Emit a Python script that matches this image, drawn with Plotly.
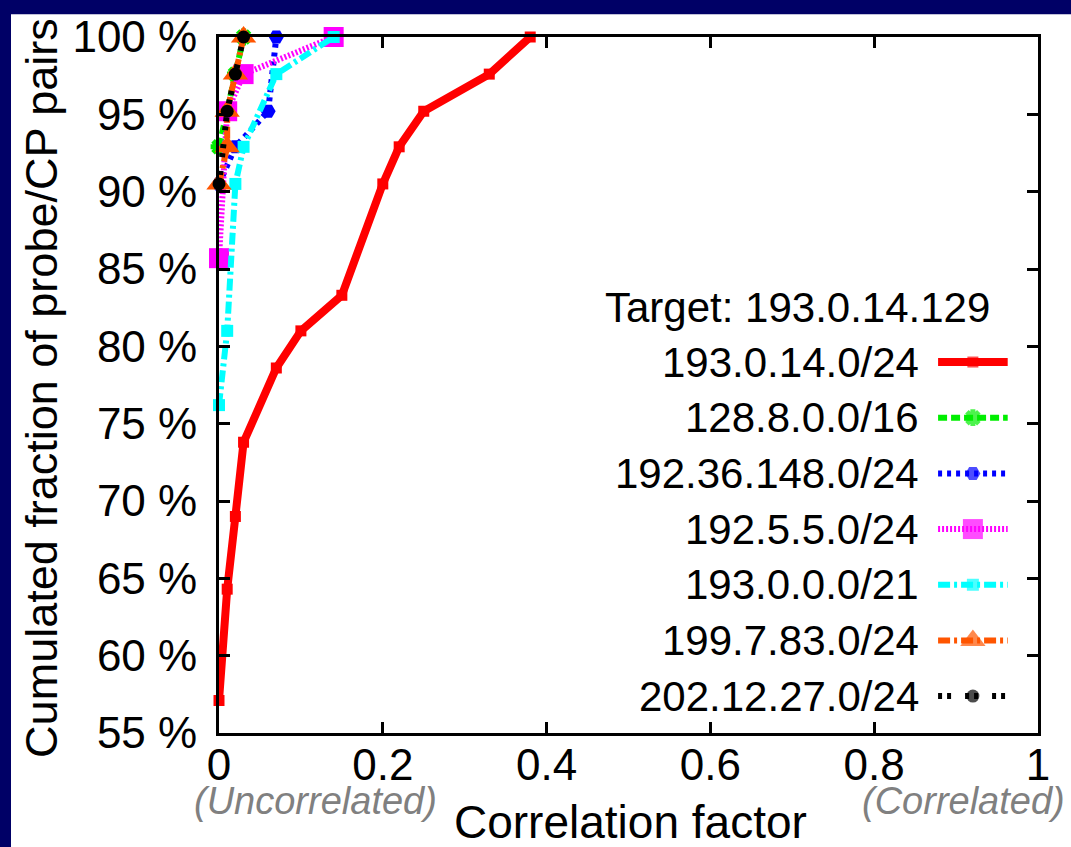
import plotly.graph_objects as go

# Cumulated fraction (%) of probe/CP pairs vs. correlation factor, per prefix
names = ["193.0.14.0/24", "128.8.0.0/16", "192.36.148.0/24", "192.5.5.0/24",
         "193.0.0.0/21", "199.7.83.0/24", "202.12.27.0/24"]

x_193_0_14 = [0.0, 0.01, 0.02, 0.03, 0.07, 0.10, 0.15, 0.20, 0.22, 0.25, 0.33, 0.38]
y_193_0_14 = [57.1, 64.3, 69.0, 73.8, 78.6, 81.0, 83.3, 90.5, 92.9, 95.2, 97.6, 100.0]

x_128_8 = [0.0, 0.01, 0.02, 0.03]
y_128_8 = [92.9, 95.2, 97.6, 100.0]

x_192_36_148 = [0.0, 0.02, 0.06, 0.07]
y_192_36_148 = [90.5, 92.9, 95.2, 100.0]

x_192_5_5 = [0.0, 0.01, 0.03, 0.14]
y_192_5_5 = [85.7, 95.2, 97.6, 100.0]

x_193_0_0 = [0.0, 0.01, 0.02, 0.03, 0.07, 0.14]
y_193_0_0 = [76.2, 81.0, 90.5, 92.9, 97.6, 100.0]

x_199_7_83 = [0.0, 0.01, 0.01, 0.02, 0.03]
y_199_7_83 = [90.5, 92.9, 95.2, 97.6, 100.0]

x_202_12_27 = [0.0, 0.01, 0.02, 0.03]
y_202_12_27 = [90.5, 95.2, 97.6, 100.0]

x_ticks = [0, 0.2, 0.4, 0.6, 0.8, 1]
x_tick_text = ["0", "0.2", "0.4", "0.6", "0.8", "1"]
y_ticks = [55, 60, 65, 70, 75, 80, 85, 90, 95, 100]
y_tick_text = ["55 %", "60 %", "65 %", "70 %", "75 %", "80 %", "85 %", "90 %", "95 %", "100 %"]

series_x = [x_193_0_14, x_128_8, x_192_36_148, x_192_5_5, x_193_0_0, x_199_7_83, x_202_12_27]
series_y = [y_193_0_14, y_128_8, y_192_36_148, y_192_5_5, y_193_0_0, y_199_7_83, y_202_12_27]

FONT = "Liberation Sans, Arial, Helvetica, sans-serif"

# gnuplot-like line/point styles
styles = [
    dict(color="#ff0000", width=8, dash="solid", symbol="square", size=11),
    dict(color="#00ee00", width=6, dash="9px,4px", symbol="asterisk-open", size=14),
    dict(color="#0000ff", width=6, dash="4px,5px", symbol="hexagon2", size=15),
    dict(color="#ff00ff", width=6, dash="2px,2px", symbol="square", size=20),
    dict(color="#00ffff", width=6, dash="12px,4px,3px,4px", symbol="square", size=12),
    dict(color="#ff5500", width=6, dash="12px,4px,3px,4px", symbol="triangle-up", size=22),
    dict(color="#000000", width=6, dash="4px,5px,4px,14px", symbol="circle", size=13),
]


def marker_for(st, size):
    m = dict(symbol=st["symbol"], size=size, color=st["color"])
    if st["symbol"].endswith("-open"):
        m["line"] = dict(color=st["color"], width=5)
    else:
        m["line"] = dict(width=0)
    return m


fig = go.Figure()

for name, xs, ys, st in zip(names, series_x, series_y, styles):
    fig.add_trace(go.Scatter(
        x=xs, y=ys, name=name, mode="lines+markers",
        line=dict(color=st["color"], width=st["width"], dash=st["dash"]),
        marker=marker_for(st, st["size"]),
        cliponaxis=False, showlegend=False,
    ))

# Hand-built key: labels right-aligned, sample line to the right of each label
key_x0, key_x1 = 0.878, 0.963
key_top, key_step = 0.533, 0.080
for i, (name, st) in enumerate(zip(names, styles)):
    ky = key_top - i * key_step
    fig.add_trace(go.Scatter(
        x=[key_x0, (key_x0 + key_x1) / 2, key_x1], y=[ky, ky, ky],
        mode="lines+markers", xaxis="x2", yaxis="y2",
        line=dict(color=st["color"], width=st["width"], dash=st["dash"]),
        marker=dict(marker_for(st, st["size"]), size=[0, st["size"], 0]),
        cliponaxis=False, showlegend=False, hoverinfo="skip",
    ))
    fig.add_annotation(x=0.857, y=ky, xref="paper", yref="paper", text=name,
                       showarrow=False, xanchor="right", yanchor="middle",
                       font=dict(family=FONT, size=42, color="black"))

fig.add_annotation(x=0.469, y=0.611, xref="paper", yref="paper",
                   text="Target: 193.0.14.129", showarrow=False,
                   xanchor="left", yanchor="middle",
                   font=dict(family=FONT, size=42, color="black"))

# Axis titles and end-of-scale notes
fig.add_annotation(x=-0.216, y=0.496, xref="paper", yref="paper",
                   text="Cumulated fraction of probe/CP pairs", textangle=-90,
                   showarrow=False, xanchor="center", yanchor="middle",
                   font=dict(family=FONT, size=45, color="black"))
fig.add_annotation(x=0.502, y=-0.128, xref="paper", yref="paper",
                   text="Correlation factor", showarrow=False,
                   xanchor="center", yanchor="middle",
                   font=dict(family=FONT, size=46, color="black"))
fig.add_annotation(x=0.118, y=-0.098, xref="paper", yref="paper",
                   text="<i>(Uncorrelated)</i>", showarrow=False,
                   xanchor="center", yanchor="middle",
                   font=dict(family=FONT, size=38, color="#808080"))
fig.add_annotation(x=1.035, y=-0.098, xref="paper", yref="paper",
                   text="<i>(Correlated)</i>", showarrow=False,
                   xanchor="right", yanchor="middle",
                   font=dict(family=FONT, size=38, color="#808080"))

# White page inside a navy frame (top and left edges)
fig.add_shape(type="rect", xref="paper", yref="paper",
              x0=(11 - 219) / 819, x1=(1080 - 219) / 819,
              y0=(733 - 860) / 700, y1=(733 - 10) / 700,
              fillcolor="white", line=dict(width=0), layer="below")

axis_common = dict(showgrid=False, zeroline=False, showline=True, linecolor="black",
                   linewidth=3, mirror="allticks", ticks="inside", ticklen=11,
                   tickwidth=3, tickcolor="black",
                   tickfont=dict(family=FONT, size=44, color="black"))

fig.update_layout(
    width=1071, height=847,
    margin=dict(l=219, r=33, t=33, b=114),
    paper_bgcolor="#000066", plot_bgcolor="white",
    xaxis=dict(axis_common, range=[0, 1], tickvals=x_ticks, ticktext=x_tick_text,
               ticklabelstandoff=-9),
    yaxis=dict(axis_common, range=[55, 100], tickvals=y_ticks, ticktext=y_tick_text,
               ticklabelstandoff=10),
    xaxis2=dict(range=[0, 1], overlaying="x", visible=False, fixedrange=True),
    yaxis2=dict(range=[0, 1], overlaying="y", visible=False, fixedrange=True),
)

fig.write_html("out.html")
